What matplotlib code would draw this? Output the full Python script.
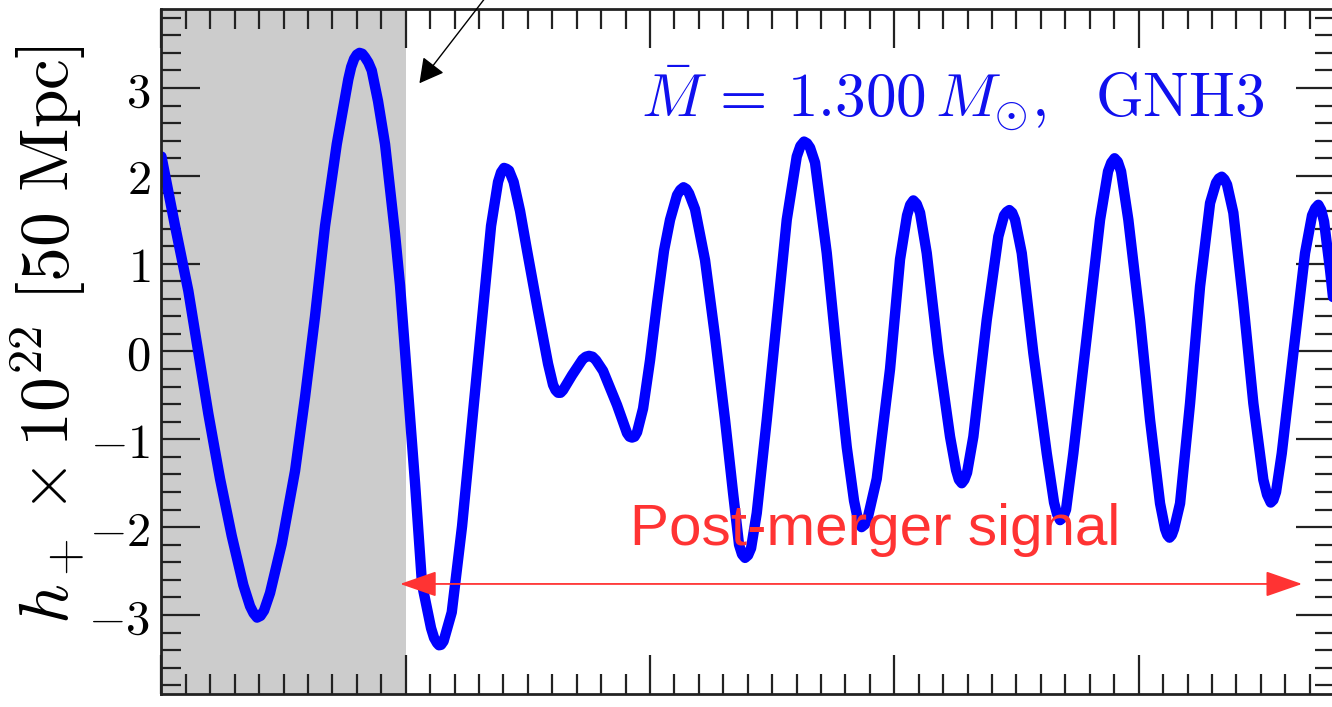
import numpy as np
import matplotlib.pyplot as plt
from matplotlib.ticker import MultipleLocator

plt.rcParams['mathtext.fontset'] = 'cm'
plt.rcParams['font.family'] = 'serif'
plt.rcParams['font.serif'] = ['DejaVu Serif']

# waveform (time in units of the major x tick)
t_ms = [0.000, 0.0557, 0.1101, 0.1510, 0.1920, 0.2399, 0.2878, 0.3352, 0.3627, 0.3770,
        0.3913, 0.4057, 0.4200, 0.4445, 0.4924, 0.5469, 0.5878, 0.6287, 0.6697, 0.7176,
        0.7650, 0.7767, 0.7884, 0.7997, 0.8109, 0.8221, 0.8334, 0.8470, 0.8608, 0.8866,
        0.9153, 0.9562, 0.9767, 0.9971, 1.0176, 1.0381, 1.0667, 1.1036, 1.1158, 1.1281,
        1.1363, 1.1445, 1.1547, 1.1650, 1.1883, 1.2305, 1.2714, 1.3148, 1.3492, 1.3778,
        1.3901, 1.4024, 1.4126, 1.4229, 1.4417, 1.4679, 1.4965, 1.5403, 1.5825, 1.6030,
        1.6132, 1.6234, 1.6337, 1.6439, 1.6807, 1.7237, 1.7370, 1.7503, 1.7647, 1.7790,
        1.8076, 1.8649, 1.9058, 1.9160, 1.9263, 1.9365, 1.9468, 1.9714, 2.0000, 2.0287,
        2.0573, 2.0819, 2.1105, 2.1238, 2.1371, 2.1484, 2.1596, 2.1842, 2.2251, 2.2661,
        2.3070, 2.3398, 2.3643, 2.3766, 2.3889, 2.4012, 2.4135, 2.4368, 2.4777, 2.5186,
        2.5596, 2.6005, 2.6155, 2.6304, 2.6427, 2.6550, 2.6754, 2.7233, 2.7642, 2.8052,
        2.8350, 2.8500, 2.8657, 2.8790, 2.8923, 2.9279, 2.9824, 3.0233, 3.0520, 3.0649,
        3.0778, 3.0915, 3.1052, 3.1326, 3.1801, 3.2280, 3.2526, 3.2643, 3.2759, 3.2868,
        3.2976, 3.3234, 3.3782, 3.4257, 3.4491, 3.4599, 3.4707, 3.4824, 3.4941, 3.5215,
        3.5690, 3.6238, 3.6537, 3.6660, 3.6783, 3.6905, 3.7028, 3.7327, 3.7876, 3.8420,
        3.8747, 3.8880, 3.9014, 3.9147, 3.9280, 3.9578, 4.0057, 4.0467, 4.0876, 4.1081,
        4.1173, 4.1265, 4.1357, 4.1449, 4.1695, 4.2104, 4.2513, 4.2923, 4.3168, 4.3285,
        4.3402, 4.3510, 4.3619, 4.3876, 4.4286, 4.4695, 4.5104, 4.5256, 4.5407, 4.5515,
        4.5624, 4.5858, 4.6332, 4.6811, 4.7098, 4.7227, 4.7356, 4.7472, 4.7589, 4.7835,
        4.8080]
h_plus = [2.22, 1.43, 0.69, -0.01, -0.71, -1.45, -2.10, -2.66, -2.90, -2.98,
          -3.03, -3.01, -2.95, -2.75, -2.19, -1.36, -0.52, 0.40, 1.43, 2.36,
          3.10, 3.24, 3.33, 3.38, 3.40, 3.39, 3.35, 3.29, 3.20, 2.85,
          2.36, 1.34, 0.75, 0.00, -0.75, -1.50, -2.65, -3.15, -3.26, -3.32,
          -3.345, -3.34, -3.30, -3.20, -2.97, -1.99, -0.81, 0.44, 1.43, 1.93,
          2.04, 2.09, 2.08, 2.06, 1.93, 1.60, 1.15, 0.48, -0.14, -0.38,
          -0.44, -0.47, -0.47, -0.44, -0.27, -0.09, -0.06, -0.05, -0.06, -0.10,
          -0.22, -0.61, -0.93, -0.97, -0.98, -0.97, -0.92, -0.65, -0.10, 0.55,
          1.15, 1.50, 1.78, 1.84, 1.87, 1.85, 1.80, 1.62, 1.04, 0.17,
          -0.78, -1.61, -2.20, -2.31, -2.35, -2.32, -2.24, -1.84, -0.78, 0.36,
          1.50, 2.22, 2.34, 2.39, 2.37, 2.32, 2.15, 1.12, -0.02, -1.09,
          -1.70, -1.90, -2.00, -1.97, -1.88, -1.45, -0.20, 1.05, 1.55, 1.67,
          1.72, 1.68, 1.58, 1.12, -0.02, -0.97, -1.35, -1.46, -1.50, -1.46,
          -1.38, -0.97, 0.36, 1.31, 1.55, 1.59, 1.61, 1.58, 1.50, 1.12,
          -0.02, -1.16, -1.72, -1.85, -1.92, -1.89, -1.80, -1.16, 0.17, 1.50,
          2.05, 2.15, 2.20, 2.16, 2.05, 1.50, 0.36, -0.78, -1.73, -2.02,
          -2.09, -2.12, -2.09, -2.02, -1.73, -0.59, 0.74, 1.69, 1.92, 1.97,
          1.99, 1.96, 1.90, 1.58, 0.55, -0.59, -1.46, -1.63, -1.72, -1.69,
          -1.60, -1.16, -0.02, 1.12, 1.55, 1.63, 1.67, 1.61, 1.48, 0.93,
          0.30]

y_ticks = [-3, -2, -1, 0, 1, 2, 3]
merger_t = 1.0
t_max = 4.804
h_lim = 3.9

# annotations
post_merger_span = (0.977, 4.669)
post_merger_h = -2.647
merger_arrow_tip = (1.056, 3.054)
merger_arrow_tail = (1.325, 4.025)

fig = plt.figure(figsize=(13.32, 7.07), dpi=100)
ax = fig.add_axes([0.1212, 0.0184, 0.8811, 0.9689])

ax.axvspan(0, merger_t, color='0.8', lw=0, zorder=0)
ax.plot(t_ms, h_plus, color='#0000ff', lw=7.5, solid_joinstyle='round', solid_capstyle='round')

ax.set_xlim(0, t_max)
ax.set_ylim(-h_lim, h_lim)
ax.xaxis.set_major_locator(MultipleLocator(1))
ax.xaxis.set_minor_locator(MultipleLocator(0.1))
ax.set_yticks(y_ticks, labels=['$%d$' % v for v in y_ticks])
ax.yaxis.set_minor_locator(MultipleLocator(0.2))
ax.tick_params(which='both', direction='in', top=True, right=True, width=1.6,
               color='#222222', labelbottom=False)
ax.tick_params(which='major', length=28, labelsize=35, pad=8)
ax.tick_params(which='minor', length=14.5)
for sp in ax.spines.values():
    sp.set_linewidth(2)
    sp.set_color('#222222')

# post-merger double arrow
ax.annotate('', xy=(post_merger_span[0], post_merger_h), xytext=(post_merger_span[1], post_merger_h),
            arrowprops=dict(arrowstyle='<|-|>,head_length=1.15,head_width=0.4', color='#ff3333',
                            lw=1.3, shrinkA=0, shrinkB=0, mutation_scale=20))
ax.text(0.608, 0.2175, 'Post-merger signal', transform=ax.transAxes, ha='center', va='baseline',
        color='#ff3333', fontsize=42, family='Liberation Sans')

# merger arrow coming from above
ax.annotate('', xy=merger_arrow_tip, xytext=merger_arrow_tail, annotation_clip=False,
            arrowprops=dict(arrowstyle='-|>,head_length=0.75,head_width=0.41', color='k',
                            lw=1.0, shrinkA=0, shrinkB=0, mutation_scale=20))

ax.text(0.940, 0.841, r'$\bar{M}\,=\,1.300\,M_{\odot},\ \ \mathrm{GNH3}$', transform=ax.transAxes,
        ha='right', va='baseline', color='#1010ee', fontsize=44)

fig.text(0.036, 0.527, r'$h_+ \times 10^{22}\ [50\ \mathrm{Mpc}]$', rotation=90,
         ha='center', va='center', fontsize=50)

fig.savefig('out.png', dpi=100)
